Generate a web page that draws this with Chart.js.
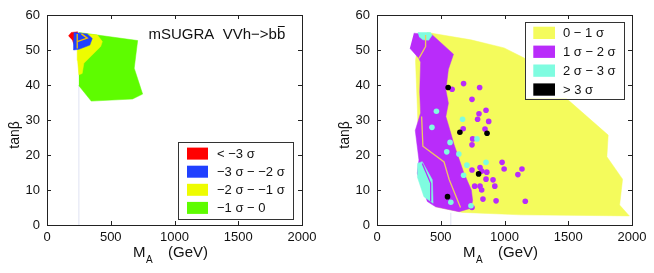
<!DOCTYPE html>
<html>
<head>
<meta charset="utf-8">
<script src="https://cdn.jsdelivr.net/npm/chart.js@4/dist/chart.umd.min.js"></script>
<style>
  html, body { margin: 0; padding: 0; background: #fff; overflow: hidden; }
  #wrap { position: relative; width: 654px; height: 273px; }
  canvas { position: absolute; top: 0; }
  #chartL { left: 0; }
  #chartR { left: 330px; }
</style>
</head>
<body>
<div id="wrap">
  <canvas id="chartL" width="330" height="273"></canvas>
  <canvas id="chartR" width="324" height="273"></canvas>
</div>
<script>
// Axis ticks (shared by both panels)
const xTicks = [0, 500, 1000, 1500, 2000];
const xTickLabels = ['0', '500', '1000', '1500', '2000'];
const yTicks = [0, 10, 20, 30, 40, 50, 60];
const yTickLabels = ['0', '10', '20', '30', '40', '50', '60'];

// Left panel: mSUGRA VVh->bb regions, [M_A, tanβ]
const leftGreen  = [[250,55],[711,52.7],[684,44.8],[750,37.4],[671,36],[347,35.4],[250,39.8]];
const leftYellow = [[237,54.8],[395,54.3],[434,52.4],[421,51],[289,46.2],[276,43.3],[250,42.9],[240,47],[237,50]];
const leftRed    = [[168,54],[190,55],[240,55.2],[245,51],[225,50.5],[200,52.7]];
const leftBlue   = [[210,55],[316,54.6],[355,53.3],[336,51.4],[250,50.2],[210,50],[208,52.9]];
const leftInnerA = [[237,54.6],[237,50.4]];
const leftInnerB = [[237,52.4],[316,53.4],[270,54.6]];
const leftGuide  = [[250,0],[250,40]];
const leftLegend = ['< \u22123 \u03c3', '\u22123 \u03c3 \u2212 \u22122 \u03c3', '\u22122 \u03c3 \u2212 \u22121 \u03c3', '\u22121 \u03c3 \u2212 0'];

// Right panel regions
const rightYellow = [[395,55],[737,52.9],[997,50.6],[1155,47.7],[1500,35.7],[1813,25.7],[1803,19.5],[1926,13.1],[1903,5.7],[1979,2.6],[1131,2.9],[671,3.6],[460,5.2],[330,20],[316,34],[302,47],[330,54]];
const rightPurple = [[289,54.8],[434,54.3],[600,48.8],[560,44.5],[540,38.6],[560,34.8],[540,31],[560,28.6],[605,22.9],[680,15],[740,10],[750,7],[737,4.8],[644,3.8],[460,5.2],[395,6.7],[316,14.8],[329,18.6],[300,27],[342,32],[335,38],[342,46.5],[329,47.6],[258,50.5]];
const rightCyanTop = [[320,55],[420,55],[432,54.2],[405,52.8],[360,52.9],[330,53.8]];
const rightCyanLow = [[316,17.6],[355,18.1],[434,12.9],[440,6.2],[368,8.1],[316,13.8]];
const rightPurpleLine = [[355,17.6],[421,11.9],[421,6.7]];
const rightYellowLineTop = [[381,54.3],[381,51],[329,47.6]];
const rightYellowLineLow = [[350,31],[360,22.5],[526,18],[566,13],[655,5]];
const rightGuide = [[579,0],[579,3.5]];

// Right panel scatter points
const rightPurplePts = [[589,38.8],[679,40.4],[805,39.3],[745,35.9],[855,32.8],[800,31.8],[789,30.2],[876,29.6],[676,27.5],[847,27.4],[750,24.6],[745,22.9],[808,16.4],[861,15.1],[745,15.7],[821,15.4],[981,17.9],[997,16],[1137,16],[1105,14.4],[855,13.1],[910,12.9],[924,11.1],[766,11.1],[808,11.1],[821,10],[831,7.4],[934,6.9],[1163,6.8],[745,5]];
const rightCyanPts = [[466,32.5],[431,27.9],[671,30.2],[573,23.6],[784,24.6],[547,20.9],[642,20.3],[705,17.1],[679,14.2],[855,17.9],[579,6.5],[737,5.5]];
const rightBlackPts = [[558,39.3],[650,26.5],[863,26.2],[797,14.6],[553,8.1]];
const rightLegend = ['0 \u2212 1 \u03c3', '1 \u03c3 \u2212 2 \u03c3', '2 \u03c3 \u2212 3 \u03c3', '> 3 \u03c3'];

const FONT = '"Liberation Sans", Arial, Helvetica, sans-serif';
const C = {
  red: '#ff0000', blue: '#2040ff', lyellow: '#eefc00', green: '#5efc00',
  ryellow: '#f4fb5c', purple: '#b92cfa', cyan: '#7ffce0', black: '#000000',
  inner: '#f2c200', guide: '#dfe2f2', rline: '#efc860',
};

Chart.defaults.font.family = FONT;

const toXY = pts => pts.map(([x, y]) => ({ x, y }));
const region = (pts, color) => ({
  data: toXY(pts), showLine: true, fill: 'shape', backgroundColor: color,
  borderColor: color, borderWidth: 0.5, pointRadius: 0, tension: 0,
});
const trace = (pts, color, w) => ({
  data: toXY(pts), showLine: true, fill: false, borderColor: color,
  borderWidth: w, pointRadius: 0, tension: 0,
});
const dots = (pts, color) => ({
  data: toXY(pts), showLine: false, pointRadius: 2.8, pointBorderWidth: 0,
  pointBackgroundColor: color, pointBorderColor: color,
});

// frame, inward ticks, axis titles, panel title, legend
const panelDecor = {
  id: 'panelDecor',
  afterDraw(chart, _args, opts) {
    const ctx = chart.ctx, ca = chart.chartArea;
    const xs = chart.scales.x, ys = chart.scales.y;
    ctx.save();
    ctx.strokeStyle = '#222';
    ctx.lineWidth = 1;
    ctx.strokeRect(ca.left + 0.5, ca.top + 0.5, ca.right - ca.left, ca.bottom - ca.top);
    ctx.beginPath();
    xs.ticks.forEach(t => {
      const px = Math.round(xs.getPixelForValue(t.value)) + 0.5;
      ctx.moveTo(px, ca.bottom); ctx.lineTo(px, ca.bottom - 4);
      ctx.moveTo(px, ca.top); ctx.lineTo(px, ca.top + 4);
    });
    ys.ticks.forEach(t => {
      const py = Math.round(ys.getPixelForValue(t.value)) + 0.5;
      ctx.moveTo(ca.left, py); ctx.lineTo(ca.left + 4, py);
      ctx.moveTo(ca.right, py); ctx.lineTo(ca.right - 4, py);
    });
    ctx.stroke();

    // x title: M_A (GeV)
    ctx.fillStyle = '#111';
    ctx.textAlign = 'left';
    ctx.textBaseline = 'alphabetic';
    const x0 = (ca.left + ca.right) / 2 - 41.5;
    ctx.font = `15px ${FONT}`;
    ctx.fillText('M', x0, 257);
    const mw = ctx.measureText('M').width;
    ctx.font = `10px ${FONT}`;
    ctx.fillText('A', x0 + mw + 0.5, 263);
    ctx.font = `15px ${FONT}`;
    ctx.fillText('(GeV)', x0 + 35, 257);

    // y title
    ctx.save();
    ctx.translate(18.5, 135);
    ctx.rotate(-Math.PI / 2);
    ctx.textAlign = 'center';
    ctx.font = `14px ${FONT}`;
    ctx.fillText('tan\u03b2', 0, 0);
    ctx.restore();

    if (opts.title) {
      ctx.font = `15px ${FONT}`;
      const tx = ca.left + 101.5;
      ctx.fillText(opts.title, tx, 39);
      const end = tx + ctx.measureText(opts.title).width;
      const bw = ctx.measureText('b').width;
      ctx.strokeStyle = '#111';
      ctx.beginPath();
      ctx.moveTo(end - bw + 1, 26.5);
      ctx.lineTo(end - 0.5, 26.5);
      ctx.stroke();
    }

    const lg = opts.legend;
    if (lg) {
      const bx = ca.right - lg.right - lg.w;
      const by = lg.top != null ? ca.top + lg.top : ca.bottom - lg.bottom - lg.h;
      ctx.fillStyle = '#fff';
      ctx.fillRect(bx, by, lg.w, lg.h);
      ctx.strokeStyle = '#333';
      ctx.strokeRect(Math.round(bx) + 0.5, Math.round(by) + 0.5, lg.w, lg.h);
      ctx.font = `13px ${FONT}`;
      ctx.textBaseline = 'middle';
      lg.labels.forEach((label, i) => {
        const sy = by + lg.first + i * lg.pitch;
        ctx.fillStyle = lg.colors[i];
        ctx.fillRect(bx + lg.sx, sy, lg.sw, lg.sh);
        ctx.fillStyle = '#111';
        ctx.fillText(label, bx + lg.tx, sy + lg.sh / 2 + 0.5);
      });
    }
    ctx.restore();
  }
};

function makeChart(id, datasets, padRight, decor) {
  // first dataset in the list is drawn at the bottom
  datasets.forEach((d, i) => { d.order = datasets.length - i; });
  return new Chart(document.getElementById(id), {
    type: 'line',
    data: { datasets },
    options: {
      responsive: false,
      animation: false,
      events: [],
      parsing: true,
      layout: { padding: { top: 15, right: padRight, bottom: 0, left: 0 } },
      plugins: { legend: { display: false }, tooltip: { enabled: false }, panelDecor: decor },
      scales: {
        x: {
          type: 'linear', min: 0, max: 2000,
          grid: { display: false, drawTicks: false }, border: { display: false },
          afterBuildTicks: s => { s.ticks = xTicks.map(v => ({ value: v })); },
          afterFit: s => { s.height = 48; },
          ticks: { padding: 5, color: '#111', font: { size: 13 }, maxRotation: 0, autoSkip: false,
                   callback: (v, i) => xTickLabels[i] },
        },
        y: {
          type: 'linear', min: 0, max: 60,
          grid: { display: false, drawTicks: false }, border: { display: false },
          afterBuildTicks: s => { s.ticks = yTicks.map(v => ({ value: v })); },
          afterFit: s => { s.width = 47; },
          ticks: { padding: 7, color: '#111', font: { size: 13 }, autoSkip: false,
                   callback: (v, i) => yTickLabels[i] },
        },
      },
    },
    plugins: [panelDecor],
  });
}

makeChart('chartL', [
  trace(leftGuide, C.guide, 1),
  region(leftGreen, C.green),
  region(leftYellow, C.lyellow),
  region(leftRed, C.red),
  region(leftBlue, C.blue),
  trace(leftInnerA, C.inner, 1.3),
  trace(leftInnerB, C.inner, 1.3),
], 28, {
  title: 'mSUGRA  VVh\u2212>bb',
  legend: { labels: leftLegend, colors: [C.red, C.blue, C.lyellow, C.green],
            w: 115, h: 77, right: 9, bottom: 6, first: 5.6, pitch: 18.1,
            sx: 9, sw: 21, sh: 12, tx: 39 },
});

makeChart('chartR', [
  trace(rightGuide, C.guide, 1),
  region(rightYellow, C.ryellow),
  region(rightPurple, C.purple),
  region(rightCyanTop, C.cyan),
  region(rightCyanLow, C.cyan),
  trace(rightPurpleLine, C.purple, 1.3),
  trace(rightYellowLineTop, C.rline, 1.3),
  trace(rightYellowLineLow, C.rline, 1.3),
  dots(rightPurplePts, C.purple),
  dots(rightCyanPts, C.cyan),
  dots(rightBlackPts, C.black),
], 22, {
  legend: { labels: rightLegend, colors: [C.ryellow, C.purple, C.cyan, C.black],
            w: 99, h: 77, right: 8, top: 6.7, first: 5, pitch: 18.9,
            sx: 8.3, sw: 21.7, sh: 12.3, tx: 38 },
});
</script>
</body>
</html>
